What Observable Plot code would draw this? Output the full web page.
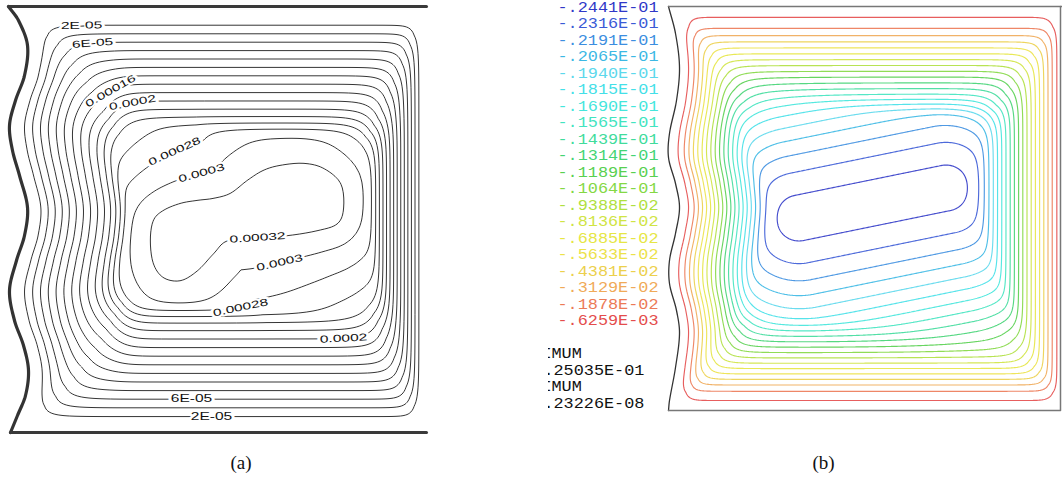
<!DOCTYPE html>
<html><head><meta charset="utf-8">
<script src="https://cdn.jsdelivr.net/npm/d3@7"></script>
<script src="https://cdn.jsdelivr.net/npm/@observablehq/plot@0.6"></script>
<style>
html,body{margin:0;padding:0;background:#fff;}
#wrap{position:relative;width:1062px;height:479px;overflow:hidden;background:#fff;}
.pane{position:absolute;top:0;}
.cap{position:absolute;font-family:"Liberation Serif","Times New Roman",serif;font-size:19px;color:#111;transform:translate(-50%,-50%);line-height:1;}
</style></head><body><div id="wrap"></div>
<script>
// ===================== DATA =====================
// Panel (a): stream-function contour levels
const levelsA = [0.00002,0.00004,0.00006,0.00008,0.0001,0.00012,0.00014,0.00016,0.00018,0.0002,0.00022,0.00024,0.00026,0.00028,0.0003,0.00032];
// Contour labels printed in panel (a) and where they sit
const labelTextA  = ["2E-05","6E-05","0.00016","0.0002","0.00028","0.0003","0.00032","0.0003","0.00028","0.0002","6E-05","2E-05"];
const labelLevelA = [0.00002,0.00006,0.00016,0.0002,0.00028,0.0003,0.00032,0.0003,0.00028,0.0002,0.00006,0.00002];
const labelXA     = [81,92,110,132,174,201,257,279,240,343,191,211];
const labelYA     = [24,41,81,105,146,163,237,268,304,337,399,416];
// Innermost (0.00032) contour of panel (a)
const coreAX = [150,153,163,180,197,213,230,247,263,280,303,323,340,343,337,317,287,257,227,213,197,180,163,153];
const coreAY = [240,220,210,203,200,198,193,180,170,165,163,168,183,207,223,230,235,237,240,253,270,280,277,263];
// Wavy left wall of panel (a)
const wallAY = [6,20,45,75,100,125,150,175,207,235,260,290,320,345,370,395,415,432];
const wallAX = [8,18,27,24,15,9,12,19,27,24,16,9,14,23,28,25,17,10];

// Panel (b): legend levels, labels and colours
const levelsB = [-0.02441,-0.02316,-0.02191,-0.02065,-0.0194,-0.01815,-0.0169,-0.01565,-0.01439,-0.01314,-0.01189,-0.01064,-0.009388,-0.008136,-0.006885,-0.005633,-0.004381,-0.003129,-0.001878,-0.0006259];
const legendTextB = ["-.2441E-01","-.2316E-01","-.2191E-01","-.2065E-01","-.1940E-01","-.1815E-01","-.1690E-01","-.1565E-01","-.1439E-01","-.1314E-01","-.1189E-01","-.1064E-01","-.9388E-02","-.8136E-02","-.6885E-02","-.5633E-02","-.4381E-02","-.3129E-02","-.1878E-02","-.6259E-03"];
const colorsB = ["#3038c8","#3a5ad6","#3c8ee0","#3cb8e4","#5cd8ec","#44e0e8","#44e6dc","#42e4c0","#40dc9c","#44d474","#58d050","#84d844","#b0e040","#d0e444","#e6e644","#ece24a","#ecd04c","#f0aa58","#ec7a56","#e44c4c"];
const extremaLabel = ["MINIMUM","MAXIMUM"];
const extremaValue = ["-.25035E-01","-.23226E-08"];
const minB = -0.025035;
// Wavy left wall of panel (b)
const wallBY = [6,33,67,100,133,157,183,207,233,260,283,310,333,367,400,410];
const wallBX = [668,675,679,676,669,668,675,679,675,669,669,676,679,675,669,668];

// ===================== FIELD MODEL =====================
const sp = (z, w) => (z / w > 30 ? z : w * Math.log1p(Math.exp(z / w)));
function softmin(vals, k) {
  let m = Infinity; for (const v of vals) if (v < m) m = v;
  let s = 0; for (const v of vals) s += Math.exp(-(v - m) / k);
  return m - k * Math.log(s);
}
function wallInterp(ys, xs) {
  const n = ys.length;
  const m = xs.map((_, i) => i === 0 ? (xs[1]-xs[0])/(ys[1]-ys[0]) : i === n-1 ? (xs[n-1]-xs[n-2])/(ys[n-1]-ys[n-2]) : (xs[i+1]-xs[i-1])/(ys[i+1]-ys[i-1]));
  return y => {
    if (y <= ys[0]) return xs[0];
    if (y >= ys[n-1]) return xs[n-1];
    const i = Math.min(n - 2, d3.bisectRight(ys, y) - 1);
    const h = ys[i+1]-ys[i], t = (y-ys[i])/h, t2 = t*t, t3 = t2*t;
    return (2*t3-3*t2+1)*xs[i] + (t3-2*t2+t)*h*m[i] + (-2*t3+3*t2)*xs[i+1] + (t3-t2)*h*m[i+1];
  };
}
// wall profile: [offset, spacing, softness, depth where it steepens, steepening]
function wallLevel(d, p) {
  const lin = sp(d - p[0], p[2]) / p[1];
  if (!p[4]) return lin;
  const e = sp(d - p[3], 6) / p[1];
  return lin + p[4] * e * e;
}
function capsule(s1, s2) {
  const ex = s2[0]-s1[0], ey = s2[1]-s1[1], L2 = ex*ex + ey*ey;
  return (x, y) => {
    const t = Math.max(0, Math.min(1, ((x-s1[0])*ex + (y-s1[1])*ey) / L2));
    return [Math.hypot(x - s1[0] - t*ex, y - s1[1] - t*ey), t];
  };
}
// smooth closed outline (Catmull-Rom) and its signed distance (negative inside)
function smoothClosed(xs, ys, k) {
  const n = xs.length, out = [];
  for (let i = 0; i < n; i++) {
    const p0 = (i - 1 + n) % n, p1 = i, p2 = (i + 1) % n, p3 = (i + 2) % n;
    for (let j = 0; j < k; j++) {
      const t = j / k, t2 = t*t, t3 = t2*t;
      const f = (a, b, c, d) => 0.5 * (2*b + (-a + c)*t + (2*a - 5*b + 4*c - d)*t2 + (-a + 3*b - 3*c + d)*t3);
      out.push([f(xs[p0], xs[p1], xs[p2], xs[p3]), f(ys[p0], ys[p1], ys[p2], ys[p3])]);
    }
  }
  return out;
}
function signedDistance(poly) {
  const n = poly.length;
  const ax = new Float64Array(n), ay = new Float64Array(n), ex = new Float64Array(n), ey = new Float64Array(n), l2 = new Float64Array(n);
  for (let i = 0; i < n; i++) {
    const a = poly[i], b = poly[(i + 1) % n];
    ax[i] = a[0]; ay[i] = a[1]; ex[i] = b[0] - a[0]; ey[i] = b[1] - a[1]; l2[i] = ex[i]*ex[i] + ey[i]*ey[i] || 1e-9;
  }
  return (x, y) => {
    let best = Infinity;
    for (let i = 0; i < n; i++) {
      let t = ((x - ax[i])*ex[i] + (y - ay[i])*ey[i]) / l2[i];
      t = t < 0 ? 0 : t > 1 ? 1 : t;
      const dx = x - ax[i] - t*ex[i], dy = y - ay[i] - t*ey[i];
      const d = dx*dx + dy*dy; if (d < best) best = d;
    }
    const d = Math.sqrt(best);
    return d3.polygonContains(poly, [x, y]) ? -d : d;
  };
}
function makeLevelField(G) {
  const xl = wallInterp(G.wallY, G.wallX);
  const xm = d3.mean(G.wallX);
  return (x, y) => {
    const wx = xl(y);
    const xe = xm + (wx - xm) * Math.exp(-Math.max(0, x - wx) / G.damp);
    const nl = wallLevel(x - xe, G.left), nr = wallLevel(G.xr - x, G.right);
    const nt = wallLevel(y - G.yt, G.top), nb = wallLevel(G.yb - y, G.bottom);
    const hard = Math.min(nl, nr, nt, nb);
    const kw = Math.min(G.kmax, G.k0 + G.k1 * Math.max(0, hard));
    const nw = softmin([nl, nr, nt, nb], kw);
    const nin = -softmin([-G.core(x, y), -G.floor], 1.5);
    return softmin([nw, nin], G.kc);
  };
}
// panel (a) geometry
const geomA = {wallY: wallAY, wallX: wallAX, xr: 426, yt: 6, yb: 432, damp: 140,
  top: [10.5, 8.4, 3, 103, 0.15], bottom: [7.5, 8.6, 3, 102, 0.15], left: [7, 7.4, 3, 82, 0.2], right: [4.45, 3.55, 2, 0, 0],
  floor: 8, k0: 1.4, k1: 0.16, kmax: 4, kc: 0.6,
  core: (() => {
    const outline = smoothClosed(coreAX, coreAY, 5);
    const sd = signedDistance(outline);
    const cx = d3.mean(coreAX), cy = d3.mean(coreAY);
    const top = levelsA.length;
    return (x, y) => {
      const dx = x - cx, dy = y - cy, r2 = dx*dx + dy*dy + 1e-9;
      const s = 20 + 11 * (dy*dy) / r2;
      return top - sd(x, y) / s;
    };
  })()};
const levelA = makeLevelField(geomA);
const psiA = (x, y) => levelA(x, y) * levelsA[0];

// panel (b) geometry
const stepB = -minB / 20;
const geomB = {wallY: wallBY, wallX: wallBX, xr: 1060, yt: 6, yb: 410, damp: 110,
  top: [15.5, 5.8, 7, 85, 0.1], bottom: [12.8, 5.3, 5.6, 76, 0.1], left: [9.5, 4.2, 3, 0, 0], right: [2, 4.2, 1.5, 0, 0],
  floor: 8, k0: 1.0, k1: 0.16, kmax: 3.5, kc: 0.8,
  core: (() => {
    const cap = capsule([798.5, 217.5], [945.5, 187.5]);
    return (x, y) => 20 - 3.32e-3 * Math.pow(cap(x, y)[0], 1.6);
  })()};
const levelB = makeLevelField(geomB);
const magB = (x, y) => levelB(x, y) * stepB;   // |psi| of panel (b)
const thrB = levelsB.map(v => -v);

// ===================== DRAW =====================
const wrap = document.getElementById("wrap");
function place(el, left, top) {
  const d = document.createElement("div");
  d.className = "pane"; d.style.left = left + "px"; d.style.top = top + "px";
  d.appendChild(el); wrap.appendChild(d); return d;
}
const sampleWall = (ys, xs, step) => {
  const f = wallInterp(ys, xs), out = [];
  for (let y = ys[0]; y <= ys[ys.length-1] + 1e-9; y += step) out.push([f(y), y]);
  return out;
};

// ---- label placement on panel (a): snap to the contour, orient along it
const labelsA = labelTextA.map((text, i) => {
  const lev = labelLevelA[i], x = labelXA[i];
  let best = labelYA[i], bestd = Infinity;
  for (let y = labelYA[i] - 22; y < labelYA[i] + 22; y += 0.25) {
    const a = psiA(x, y) - lev, b = psiA(x, y + 0.25) - lev;
    if (a * b <= 0) {
      const yc = y + 0.25 * a / (a - b);
      if (Math.abs(yc - labelYA[i]) < bestd) { bestd = Math.abs(yc - labelYA[i]); best = yc; }
    }
  }
  const h = 2;
  const gx = psiA(x + h, best) - psiA(x - h, best), gy = psiA(x, best + h) - psiA(x, best - h);
  let ang = Math.atan2(-gx, gy) * 180 / Math.PI;
  if (ang > 90) ang -= 180; if (ang < -90) ang += 180;
  return {text, x, y: best, rotate: ang};
});

const WA = 440, HA = 440;
const plotA = Plot.plot({
  width: WA, height: HA, margin: 0,
  x: {domain: [0, WA], axis: null}, y: {domain: [HA, 0], axis: null},
  marks: [
    Plot.contour(undefined, {value: psiA, x1: 0, y1: 0, x2: WA, y2: HA, pixelSize: 1,
      thresholds: levelsA, fill: "none", stroke: "#111", strokeWidth: 0.85}),
    Plot.line(sampleWall(wallAY, wallAX, 1), {x: d => d[0], y: d => d[1], stroke: "#333", strokeWidth: 3.2}),
    Plot.line([[wallAX[0], geomA.yt], [geomA.xr, geomA.yt]], {x: d => d[0], y: d => d[1], stroke: "#3a3a3a", strokeWidth: 3}),
    Plot.line([[wallAX[wallAX.length-1], geomA.yb], [geomA.xr, geomA.yb]], {x: d => d[0], y: d => d[1], stroke: "#3a3a3a", strokeWidth: 3}),
    Plot.text(labelsA, {x: "x", y: "y", text: "text", rotate: "rotate", fontSize: 10, fontFamily: "Liberation Sans, Arial, sans-serif",
      fill: "#111", stroke: "white", strokeWidth: 4, paintOrder: "stroke"})
  ]
});
place(plotA, 0, 0);
// the labels in the figure are horizontally stretched
plotA.querySelectorAll("text").forEach(t => {
  const w = t.getComputedTextLength();
  if (w > 0) { t.setAttribute("textLength", (w * 1.55).toFixed(1)); t.setAttribute("lengthAdjust", "spacingAndGlyphs"); }
});

// ---- legend of panel (b)
const LX = 548, LW = 114, LH = 420, CHAR = 10.1;
const monoFont = "Liberation Mono, DejaVu Sans Mono, monospace";
const legendPlot = Plot.plot({
  width: LW, height: LH, margin: 0,
  style: {overflow: "hidden", background: "white"},
  x: {domain: [0, 1], axis: null}, y: {domain: [0, 24], range: [6.5, 402.5], axis: null},
  marks: [
    Plot.text(legendTextB, {x: 0, y: (d, i) => i, text: d => d, fill: (d, i) => colorsB[i], textAnchor: "start", dx: 9,
      fontSize: 14.5, fontFamily: monoFont}),
    Plot.text(extremaLabel, {x: 0, y: (d, i) => 21 + 2 * i, text: d => d, fill: "#111", textAnchor: "start", dx: 3 - 4 * CHAR,
      fontSize: 14.5, fontFamily: monoFont}),
    Plot.text(extremaValue, {x: 0, y: (d, i) => 22 + 2 * i, text: d => d, fill: "#111", textAnchor: "start", dx: 5 - 2 * CHAR,
      fontSize: 14.5, fontFamily: monoFont})
  ]
});
place(legendPlot, LX, 0);
legendPlot.querySelectorAll("text").forEach(t => {
  const n = t.textContent.length;
  if (n) { t.setAttribute("textLength", (n * CHAR).toFixed(1)); t.setAttribute("lengthAdjust", "spacingAndGlyphs"); }
});

// ---- panel (b)
const BX0 = 660, WB = 402, HB = 420;
const plotB = Plot.plot({
  width: WB, height: HB, margin: 0,
  x: {domain: [BX0, BX0 + WB], axis: null}, y: {domain: [HB, 0], axis: null},
  color: {type: "ordinal", domain: thrB, range: colorsB},
  marks: [
    Plot.contour(undefined, {value: magB, x1: BX0, y1: 0, x2: BX0 + WB, y2: HB, pixelSize: 1,
      thresholds: thrB, fill: "none", stroke: "value", strokeWidth: 1.15, strokeOpacity: 0.9}),
    Plot.line(sampleWall(wallBY, wallBX, 1), {x: d => d[0], y: d => d[1], stroke: "#333", strokeWidth: 1.3}),
    Plot.line([[wallBX[0], geomB.yt], [BX0 + WB, geomB.yt]], {x: d => d[0], y: d => d[1], stroke: "#777", strokeWidth: 1.5}),
    Plot.line([[geomB.xr, geomB.yt], [geomB.xr, geomB.yb], [wallBX[wallBX.length-1], geomB.yb]], {x: d => d[0], y: d => d[1], stroke: "#777", strokeWidth: 1.5})
  ]
});
place(plotB, BX0, 0);

// ---- captions
[["(a)", 241], ["(b)", 823.5]].forEach(([t, x]) => {
  const c = document.createElement("div"); c.className = "cap"; c.textContent = t;
  c.style.left = x + "px"; c.style.top = "462px"; wrap.appendChild(c);
});
</script></body></html>
